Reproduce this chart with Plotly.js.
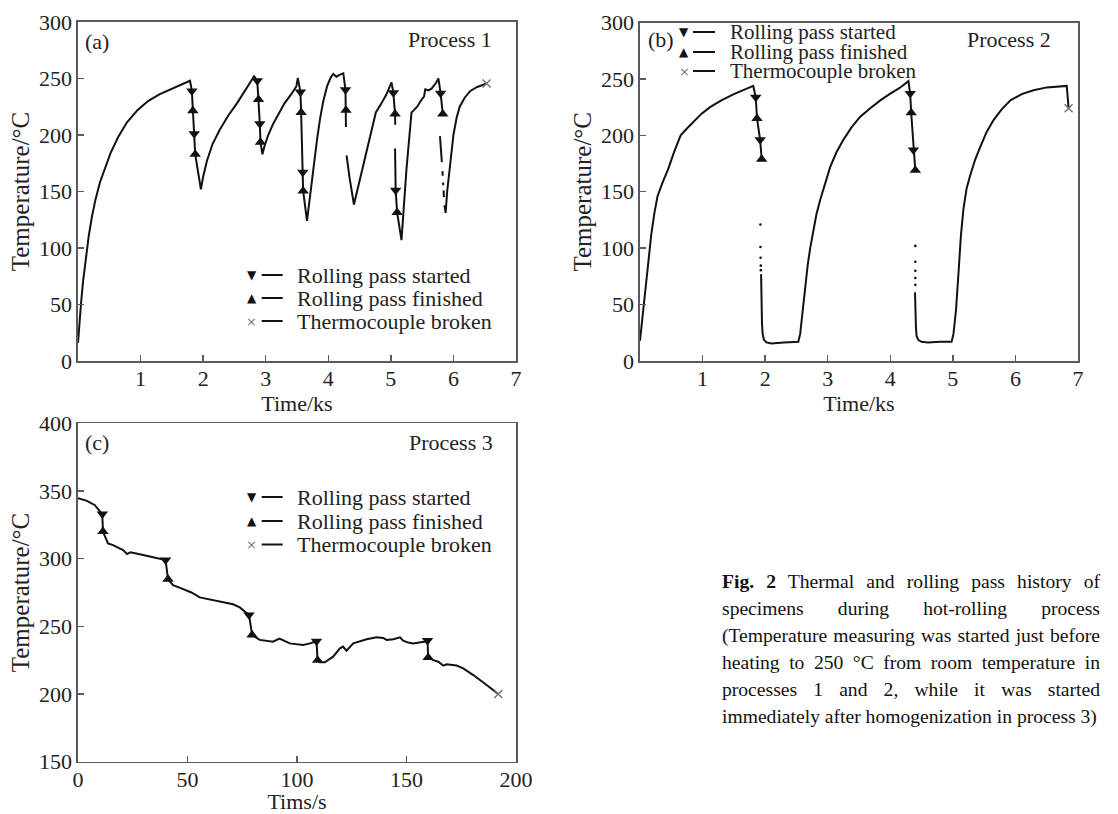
<!DOCTYPE html>
<html>
<head>
<meta charset="utf-8">
<script src="https://cdn.plot.ly/plotly-3.0.1.min.js"></script>
<style>
  html, body { margin: 0; padding: 0; background: #fff; }
  #chart { position: absolute; left: 0; top: 0; width: 1118px; height: 814px; }
  #caption { position: absolute; left: 722px; top: 568px; width: 378px;
    font-family: 'Liberation Serif', 'Times New Roman', serif; font-size: 19.6px;
    line-height: 27px; color: #111; }
  #caption .j { text-align: justify; text-align-last: justify; white-space: nowrap; }
  #caption .l { text-align: left; white-space: nowrap; }
</style>
</head>
<body>
<div id="chart"></div>
<div id="caption">
  <div class="j"><b>Fig. 2</b> Thermal and rolling pass history of</div>
  <div class="j">specimens during hot-rolling process</div>
  <div class="j">(Temperature measuring was started just before</div>
  <div class="j">heating to 250 °C from room temperature in</div>
  <div class="j">processes 1 and 2, while it was started</div>
  <div class="l">immediately after homogenization in process 3)</div>
</div>
<script>
// ---------------- DATA ----------------
// Process 1 (panel a): time in ks, temperature in °C (null = gap in record)
const aTime = [
  0, 0.02, 0.05, 0.08, 0.12, 0.17, 0.22, 0.28, 0.35, 0.43, 0.52, 0.64, 0.78, 0.95, 1.12, 1.3, 1.5, 1.68, 1.79,
  1.82, 1.836, 1.857, 1.873, 1.964,
  2.0, 2.06, 2.15, 2.27, 2.4, 2.54, 2.68, 2.815,
  2.865, 2.885, 2.906, 2.916, 2.948,
  2.98, 3.04, 3.12, 3.2, 3.3, 3.42, 3.49, 3.513,
  3.555, 3.566, 3.593, 3.598, 3.66,
  3.70, 3.74, 3.78, 3.82, 3.87, 3.92, 3.98, 4.04, 4.08, 4.13, 4.17, 4.24,
  4.275, 4.282, 4.282, null, 4.292, 4.34, 4.41,
  4.46, 4.52, 4.6, 4.68, 4.76, 4.85, 4.93, 5.01,
  5.04, 5.067, 5.07, null, 5.067, 5.077, 5.10, 5.17,
  5.25, 5.33, 5.37, 5.42, 5.5, 5.53, 5.55, 5.6, 5.65, 5.72, 5.76,
  5.795, 5.83, null, 5.785, 5.815, null, 5.825, 5.828, null, 5.835, 5.837, null, 5.843, 5.848, null, 5.857, 5.875,
  5.9, 5.93, 5.96, 6.0, 6.05, 6.1, 6.18, 6.27, 6.38, 6.53
];
const aTemp = [
  16, 33, 52, 70, 89, 110, 127, 143, 158, 171, 184, 198, 211, 222, 230, 236, 241, 245, 248,
  239, 221.5, 201, 183, 152,
  163, 177, 192, 205, 217, 228, 240, 252,
  248, 231.5, 210, 193.5, 183,
  190, 200, 210, 218, 228, 237, 243, 250.5,
  238, 220, 167, 150.5, 124,
  142, 160, 180, 196, 215, 230, 243, 251, 254, 251.5, 253, 254.5,
  240, 222, 207, null, 182, 162, 138.5,
  150, 165, 185, 203, 220, 228, 236, 246.5,
  237.5, 218.5, 209, null, 188, 151, 131.5, 107,
  170, 220, 222, 225, 232, 234, 240.5, 239.5, 241, 246, 250,
  237, 218.5, null, 199, 176, null, 168, 164, null, 158, 155.5, null, 151, 145, null, 138, 131,
  150, 165, 185, 200, 215, 225, 233, 239, 242.5, 245.6
];
const aStartTime = [1.82, 1.857, 2.865, 2.906, 3.555, 3.593, 4.275, 5.04, 5.077, 5.795];
const aStartTemp = [239, 201, 248, 210, 238, 167, 240, 237.5, 151, 237];
const aFinishTime = [1.836, 1.873, 2.885, 2.916, 3.566, 3.598, 4.282, 5.067, 5.10, 5.83];
const aFinishTemp = [221.5, 183, 231.5, 193.5, 220, 150.5, 222, 218.5, 131.5, 218.5];
const aBrokenTime = [6.53];
const aBrokenTemp = [245.6];

// Process 2 (panel b)
const bTime = [
  0, 0.02, 0.05, 0.09, 0.13, 0.18, 0.23, 0.28, 0.36, 0.45, 0.55, 0.65, 0.75, 0.86, 0.98, 1.12, 1.3, 1.5, 1.66, 1.81,
  1.85, 1.87, 1.92, 1.945, null,
  1.935, 1.94, 1.95, 1.96, 1.98, 2.02, 2.1, 2.3, 2.53, 2.56, 2.6, 2.64, 2.68, 2.72, 2.77, 2.82, 2.88, 2.96, 3.04, 3.14, 3.25, 3.38, 3.52, 3.68, 3.84, 4.0, 4.15, 4.29,
  4.318, 4.334, 4.37, 4.40, null,
  4.395, 4.40, 4.41, 4.42, 4.45, 4.5, 4.6, 4.8, 4.98, 5.01, 5.05, 5.09, 5.13, 5.17, 5.22, 5.28, 5.36, 5.44, 5.54, 5.65, 5.78, 5.92, 6.1, 6.29, 6.5, 6.82, 6.85
];
const bTemp = [
  18, 28, 45, 67, 89, 112, 131, 146, 158, 170, 186, 200, 206, 212, 219, 225, 231, 236.5, 240.5, 243.8,
  233.7, 215, 196, 178.7, null,
  77, 55, 33, 24, 19, 16.5, 15.5, 16.5, 17, 24, 45, 67, 85, 100, 116, 130, 143, 158, 172, 185, 196, 207, 216.5, 224, 231, 237, 242, 248,
  237, 220, 187, 169, null,
  61, 45, 30, 22, 18.5, 17, 16.5, 17, 17, 24, 45, 78, 112, 135, 153, 165, 179, 190, 203, 213.5, 223, 231, 236.5, 240, 242.5, 243.8, 224
];
const bDotTime = [1.925, 1.925, 1.927, 1.93, 1.932, 4.40, 4.40, 4.40, 4.40, 4.40];
const bDotTemp = [121, 101, 91.5, 84.5, 80.5, 102, 88, 80, 73.5, 67.5];
const bStartTime = [1.85, 1.92, 4.318, 4.37];
const bStartTemp = [233.7, 196, 237, 187];
const bFinishTime = [1.87, 1.945, 4.334, 4.40];
const bFinishTemp = [215, 178.7, 220, 169];
const bBrokenTime = [6.85];
const bBrokenTemp = [224];

// Process 3 (panel c): time in s
const cTime = [0, 3.8, 7.6, 9.6, 11.1, 11.4, 13.7, 16, 19, 20.6, 22.4, 23.9, 28.2, 34.3, 40, 41.1, 43.4, 47.2, 51.8, 55.6,
  61.7, 70.8, 73.9, 77, 78.1, 79.5, 83, 89, 92, 96.7, 102.8, 105.9, 108.9, 109.4, 110.4, 112.7, 116.5, 119.6, 121, 122.6,
  125.7, 131.8, 136.3, 139.4, 140.9, 144, 147, 148.5, 150.8, 153, 159.6, 159.9, 162.2, 164.5, 166.8, 168.3, 172.9, 175.9,
  180.5, 186.6, 191.9];
const cTemp = [344.6, 342.9, 339.7, 336, 332.8, 320, 311.3, 310, 308, 306.4, 303.4, 304.7, 303.2, 301, 299, 284.7, 280.5, 278, 275, 271.4,
  269.5, 266.3, 264, 260, 258.4, 243.6, 240, 238.7, 241, 237.4, 236.2, 237.4, 239, 225, 223.4, 223.4, 227.6, 233.7, 235, 232,
  237.4, 240.4, 241.9, 241.4, 240, 240.4, 241.9, 239.4, 238, 237.4, 239, 227, 225, 223.9, 221, 222, 221, 219,
  214, 206.7, 200];
const cStartTime = [11.1, 40, 78.1, 108.9, 159.6];
const cStartTemp = [333, 299, 258.4, 239, 239.5];
const cFinishTime = [11.4, 41.1, 79.5, 109.4, 159.9];
const cFinishTemp = [320, 284.7, 243.6, 225, 227];
const cBrokenTime = [191.9];
const cBrokenTemp = [200];

const legendLabels = ['Rolling pass started', 'Rolling pass finished', 'Thermocouple broken'];
const panelLabels = ['(a)', '(b)', '(c)'];
const processLabels = ['Process 1', 'Process 2', 'Process 3'];

// ---------------- STYLE / LAYOUT ----------------
const W = 1118, H = 814;
const FONT = 'Liberation Serif';
const INK = '#111';
const FRAME = '#5a5a5a';
const px = v => v / W;
const py = v => 1 - v / H;

function lineTrace(x, y, xa, ya) {
  return { x, y, xaxis: xa, yaxis: ya, type: 'scatter', mode: 'lines', connectgaps: false,
    line: { color: INK, width: 2 }, showlegend: false, hoverinfo: 'skip' };
}
function markTrace(x, y, xa, ya, symbol, size, color, lw) {
  return { x, y, xaxis: xa, yaxis: ya, type: 'scatter', mode: 'markers', showlegend: false, hoverinfo: 'skip',
    marker: { symbol, size, color, line: { width: lw || 0, color } } };
}

const traces = [
  lineTrace(aTime, aTemp, 'x', 'y'),
  markTrace(aStartTime, aStartTemp, 'x', 'y', 'triangle-down', 10, INK),
  markTrace(aFinishTime, aFinishTemp, 'x', 'y', 'triangle-up', 10, INK),
  markTrace(aBrokenTime, aBrokenTemp, 'x', 'y', 'x-thin', 8, '#777', 1.5),

  lineTrace(bTime, bTemp, 'x2', 'y2'),
  markTrace(bDotTime, bDotTemp, 'x2', 'y2', 'circle', 2.6, INK),
  markTrace(bStartTime, bStartTemp, 'x2', 'y2', 'triangle-down', 10, INK),
  markTrace(bFinishTime, bFinishTemp, 'x2', 'y2', 'triangle-up', 10, INK),
  markTrace(bBrokenTime, bBrokenTemp, 'x2', 'y2', 'x-thin', 8, '#777', 1.5),

  lineTrace(cTime, cTemp, 'x3', 'y3'),
  markTrace(cStartTime, cStartTemp, 'x3', 'y3', 'triangle-down', 10, INK),
  markTrace(cFinishTime, cFinishTemp, 'x3', 'y3', 'triangle-up', 10, INK),
  markTrace(cBrokenTime, cBrokenTemp, 'x3', 'y3', 'x-thin', 8, '#777', 1.5)
];

function axisBase() {
  return { showline: true, mirror: true, linecolor: FRAME, linewidth: 1.6, showgrid: false, zeroline: false,
    ticks: 'inside', ticklen: 6, tickwidth: 1.4, tickcolor: FRAME, fixedrange: true,
    tickfont: { family: FONT, size: 22, color: '#222' } };
}
function xAxis(domain, anchor, range, tickvals, title) {
  return Object.assign(axisBase(), { domain, anchor, range, tickvals, ticklabelstandoff: -3,
    title: { text: title, font: { family: FONT, size: 22, color: '#222' }, standoff: 0 } });
}
function yAxis(domain, anchor, range, dtick) {
  return Object.assign(axisBase(), { domain, anchor, range, dtick, tick0: 0,
    title: { text: 'Temperature/°C', font: { family: FONT, size: 25, color: '#222' }, standoff: 2 } });
}

const annotations = [];
const shapes = [];
function txt(text, x, y, xanchor, size) {
  annotations.push({ text, x: px(x), y: py(y), xref: 'paper', yref: 'paper', xanchor, yanchor: 'middle',
    showarrow: false, font: { family: FONT, size: size || 22, color: '#222' } });
}
function legend(markerX, lineX0, lineX1, textX, rows, size) {
  const glyphs = ['▼', '▲', '×'];
  const glyphColor = [INK, INK, '#777'];
  const glyphSize = [12, 12, 13];
  rows.forEach((r, i) => {
    annotations.push({ text: glyphs[i], x: px(markerX), y: py(r), xref: 'paper', yref: 'paper',
      xanchor: 'center', yanchor: 'middle', showarrow: false,
      font: { family: 'DejaVu Sans', size: glyphSize[i], color: glyphColor[i] } });
    shapes.push({ type: 'line', xref: 'paper', yref: 'paper', x0: px(lineX0), x1: px(lineX1), y0: py(r), y1: py(r),
      line: { color: INK, width: 2 } });
    txt(legendLabels[i], textX, r, 'left', size);
  });
}

// panel labels
txt(panelLabels[0], 83, 41, 'left');  txt(processLabels[0], 494, 40, 'right');
txt(panelLabels[1], 646, 39, 'left'); txt(processLabels[1], 1053, 40, 'right');
txt(panelLabels[2], 83, 442, 'left'); txt(processLabels[2], 495, 442, 'right');

legend(251.7, 261.7, 282.7, 295, [275, 298, 321], 22);
legend(684, 693, 715, 728, [32, 52, 71], 21);
legend(251.7, 261.7, 282.7, 295, [497, 521, 544.5], 22);

const layout = {
  width: W, height: H,
  margin: { l: 0, r: 0, t: 0, b: 0, pad: 0 },
  paper_bgcolor: '#fff', plot_bgcolor: '#fff',
  showlegend: false,
  font: { family: FONT, color: '#222' },
  xaxis:  xAxis([px(78), px(516)], 'y', [0, 7], [1, 2, 3, 4, 5, 6, 7], 'Time/ks'),
  yaxis:  yAxis([py(361), py(22)], 'x', [0, 300], 50),
  xaxis2: xAxis([px(640), px(1078)], 'y2', [0, 7], [1, 2, 3, 4, 5, 6, 7], 'Time/ks'),
  yaxis2: yAxis([py(361), py(22.5)], 'x2', [0, 300], 50),
  xaxis3: xAxis([px(78), px(516)], 'y3', [0, 200], [0, 50, 100, 150, 200], 'Tims/s'),
  yaxis3: yAxis([py(761.7), py(423.3)], 'x3', [150, 400], 50),
  annotations, shapes
};

Plotly.newPlot('chart', traces, layout, { staticPlot: true, displayModeBar: false });
</script>
</body>
</html>
